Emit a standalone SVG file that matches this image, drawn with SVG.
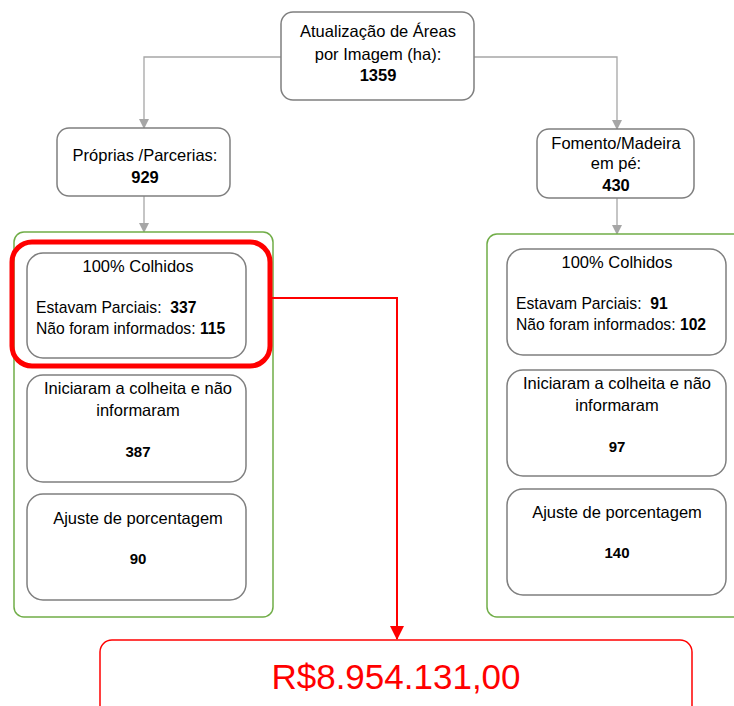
<svg xmlns="http://www.w3.org/2000/svg" width="734" height="706" viewBox="0 0 734 706">
<style>
text{font-family:"Liberation Sans",Arial,sans-serif;fill:#000;text-anchor:middle}
.t{font-size:16.5px}
.s{font-size:15.7px}
.n{font-size:15px;font-weight:bold}
.b{font-weight:bold}
.l{text-anchor:start}
.box{fill:#fff;stroke:#7f7f7f;stroke-width:1.5}
.grp{fill:#fff;stroke:#70ad47;stroke-width:1.5}
.con{fill:none;stroke:#a6a6a6;stroke-width:1.3}
</style>
<defs>
<marker id="ga" markerWidth="10" markerHeight="10" refX="9" refY="5" orient="auto" markerUnits="userSpaceOnUse"><path d="M0,0 L10,5 L0,10 Z" fill="#a6a6a6"/></marker>
<marker id="ra" markerWidth="14" markerHeight="14" refX="13" refY="7" orient="auto" markerUnits="userSpaceOnUse"><path d="M0,0 L14,7 L0,14 Z" fill="#f00"/></marker>
</defs>
<rect width="734" height="706" fill="#fff"/>
<g id="connectors">
<path class="con" d="M281,57 H144 V128" marker-end="url(#ga)"/>
<path class="con" d="M474,57 H617 V129" marker-end="url(#ga)"/>
<path class="con" d="M144,196 V232" marker-end="url(#ga)"/>
<path class="con" d="M617,198 V234" marker-end="url(#ga)"/>
</g>
<g id="root">
<rect class="box" x="281" y="12" width="193" height="88" rx="12"/>
<text class="t" x="378" y="37">Atualização de Áreas</text>
<text class="t" x="378" y="60">por Imagem (ha):</text>
<text class="t b" x="378" y="81">1359</text>
</g>
<g id="proprias">
<rect class="box" x="57" y="128" width="173" height="68" rx="12"/>
<text class="t" x="145" y="161">Próprias /Parcerias:</text>
<text class="t b" x="145" y="183">929</text>
</g>
<g id="fomento">
<rect class="box" x="537" y="129" width="157" height="69" rx="12"/>
<text class="t" x="616" y="149">Fomento/Madeira</text>
<text class="t" x="616" y="169">em pé:</text>
<text class="t b" x="616" y="191">430</text>
</g>
<g id="left-group">
<rect class="grp" x="14" y="232" width="259" height="385" rx="10"/>
</g>
<g id="right-group">
<rect class="grp" x="487" y="234" width="260" height="383" rx="10"/>
</g>
<g id="l-colhidos">
<rect class="box" x="27" y="253" width="219" height="105" rx="16"/>
<text class="t" x="138" y="272">100% Colhidos</text>
<text class="s l" x="36" y="313" xml:space="preserve">Estavam Parciais:  <tspan class="b">337</tspan></text>
<text class="s l" x="36" y="334">Não foram informados: <tspan class="b">115</tspan></text>
</g>
<g id="l-highlight">
<rect x="12" y="242" width="258" height="124" rx="20" fill="none" stroke="#f00" stroke-width="5"/>
</g>
<g id="l-iniciaram">
<rect class="box" x="27" y="375" width="219" height="107" rx="16"/>
<text class="t" x="138" y="394">Iniciaram a colheita e não</text>
<text class="t" x="138" y="416">informaram</text>
<text class="n" x="138" y="457">387</text>
</g>
<g id="l-ajuste">
<rect class="box" x="27" y="494" width="219" height="106" rx="16"/>
<text class="t" x="138" y="524">Ajuste de porcentagem</text>
<text class="n" x="138" y="564">90</text>
</g>
<g id="r-colhidos">
<rect class="box" x="507" y="249" width="219" height="106" rx="16"/>
<text class="t" x="617" y="268">100% Colhidos</text>
<text class="s l" x="516" y="309" xml:space="preserve">Estavam Parciais:  <tspan class="b">91</tspan></text>
<text class="s l" x="516" y="330">Não foram informados: <tspan class="b">102</tspan></text>
</g>
<g id="r-iniciaram">
<rect class="box" x="507" y="370" width="219" height="106" rx="16"/>
<text class="t" x="617" y="389">Iniciaram a colheita e não</text>
<text class="t" x="617" y="411">informaram</text>
<text class="n" x="617" y="452">97</text>
</g>
<g id="r-ajuste">
<rect class="box" x="507" y="489" width="219" height="106" rx="16"/>
<text class="t" x="617" y="518">Ajuste de porcentagem</text>
<text class="n" x="617" y="558">140</text>
</g>
<g id="red-connector">
<path d="M270,298 H397 V639" fill="none" stroke="#f00" stroke-width="2" marker-end="url(#ra)"/>
</g>
<g id="total">
<rect x="100" y="640" width="592" height="80" rx="12" fill="#fff" stroke="#f00" stroke-width="1.5"/>
<text x="396" y="689" style="font-size:35px;fill:#f00">R$8.954.131,00</text>
</g>
</svg>
